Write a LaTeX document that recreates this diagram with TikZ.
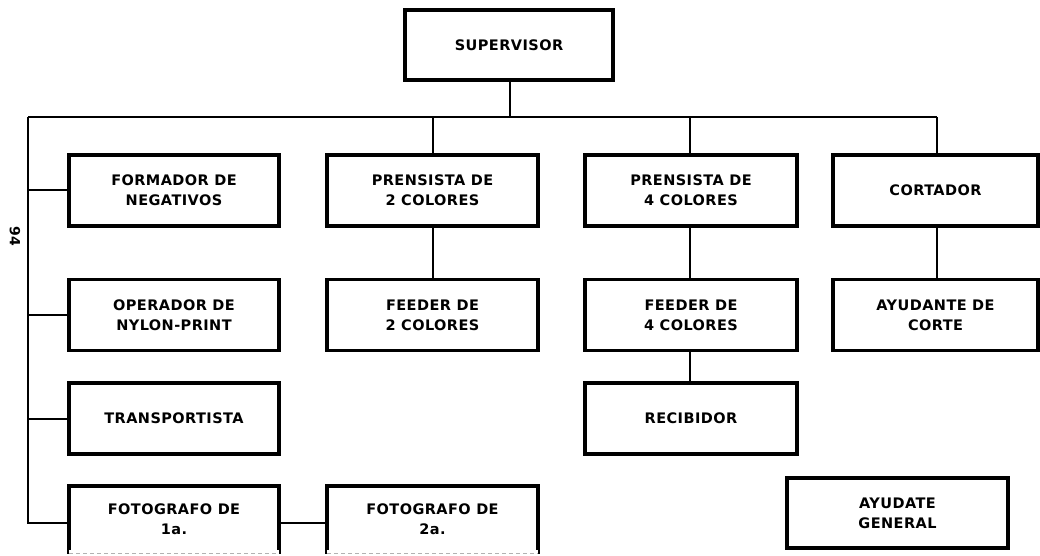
\documentclass[tikz,border=0pt]{standalone}
\usepackage{fontspec}
\newfontfamily\boxfont{DejaVu Sans}[LetterSpace=3]
\begin{document}
\begin{tikzpicture}[x=1pt,y=-1pt,
  every node/.style={inner sep=0pt},
  box/.style={draw, line width=3.2pt, align=center,
    font=\boxfont\bfseries\fontsize{14.5}{20}\selectfont},
  cutedge/.style={gray!60, line width=0.8pt, dash pattern=on 4pt off 3pt},
  link/.style={line width=1.2pt},
  col1/.style={minimum width=210pt},
  col2/.style={minimum width=211pt},
  col3/.style={minimum width=212pt},
  col4/.style={minimum width=205pt},
  rowh/.style={minimum height=71pt}]
\useasboundingbox (0,0) rectangle (1040,556);

\node[box, minimum width=208pt, minimum height=70pt] (sup) at (509,45) {SUPERVISOR};

\node[box, col1, rowh] (formador) at (174,190.5) {FORMADOR DE\\NEGATIVOS};
\node[box, col1, rowh] (operador) at (174,315) {OPERADOR DE\\NYLON-PRINT};
\node[box, col1, rowh] (transp) at (174,418.5) {TRANSPORTISTA};
\node[box, col1, minimum height=66pt] (foto1) at (174,519) {FOTOGRAFO DE\\1a.};

\node[box, col2, rowh] (pren2) at (432.5,190.5) {PRENSISTA DE\\2 COLORES};
\node[box, col2, rowh] (feed2) at (432.5,315) {FEEDER DE\\2 COLORES};
\node[box, col2, minimum height=66pt] (foto2) at (432.5,519) {FOTOGRAFO DE\\2a.};

\node[box, col3, rowh] (pren4) at (691,190.5) {PRENSISTA DE\\4 COLORES};
\node[box, col3, rowh] (feed4) at (691,315) {FEEDER DE\\4 COLORES};
\node[box, col3, rowh] (recib) at (691,418.5) {RECIBIDOR};

\node[box, col4, rowh] (cort) at (935.5,190.5) {CORTADOR};
\node[box, col4, rowh] (ayud) at (935.5,315) {AYUDANTE DE\\CORTE};

\node[box, minimum width=221pt, minimum height=70pt] (gen) at (897.5,513) {AYUDATE\\GENERAL};

\node[rotate=-90, font=\boxfont\bfseries\fontsize{14}{16}\selectfont] (pg) at (15,236) {94};

% bottom edges of the two photographer boxes are cut off by the page edge
\draw[white, line width=7pt] ([xshift=1.7pt]foto1.south west) -- ([xshift=-1.7pt]foto1.south east);
\draw[cutedge] ([xshift=1.7pt]foto1.south west) -- ([xshift=-1.7pt]foto1.south east);
\draw[white, line width=7pt] ([xshift=1.7pt]foto2.south west) -- ([xshift=-1.7pt]foto2.south east);
\draw[cutedge] ([xshift=1.7pt]foto2.south west) -- ([xshift=-1.7pt]foto2.south east);

% bus
\coordinate (busL) at (28,117);
\coordinate (busR) at (937,117);
\coordinate (busS) at (510,117);
\coordinate (leftB) at (28,523);
\draw[link] (sup.south -| busS) -- (busS);
\draw[link] (busL) -- (busR);
\draw[link] (busR) -- (busR |- cort.north);
\draw[link] (pren2.north -| 433,0) -- (433,117);
\draw[link] (pren4.north -| 690,0) -- (690,117);
\draw[link] (busL) -- (leftB) -- (leftB -| foto1.west);
\draw[link] (28,190) -- (28,190 -| formador.west);
\draw[link] (28,315) -- (28,315 -| operador.west);
\draw[link] (28,419) -- (28,419 -| transp.west);
\draw[link] (foto1.east |- 0,523) -- (foto2.west |- 0,523);

\draw[link] (pren2.south -| 433,0) -- (feed2.north -| 433,0);
\draw[link] (pren4.south -| 690,0) -- (feed4.north -| 690,0);
\draw[link] (feed4.south -| 690,0) -- (recib.north -| 690,0);
\draw[link] (cort.south -| 937,0) -- (ayud.north -| 937,0);
\end{tikzpicture}
\end{document}
